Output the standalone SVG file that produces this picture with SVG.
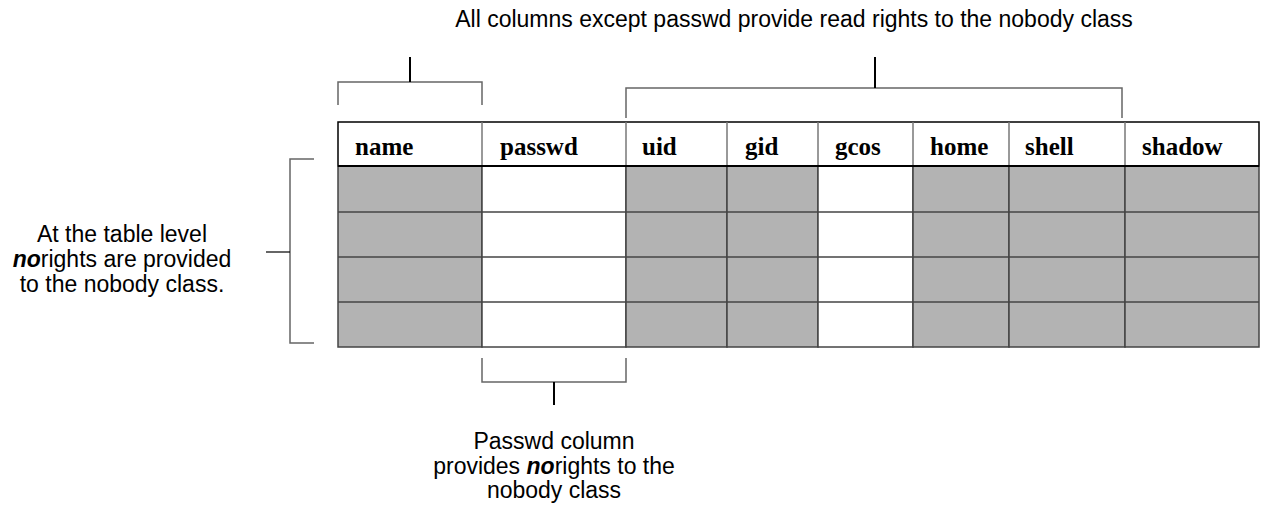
<svg xmlns="http://www.w3.org/2000/svg" width="1261" height="506" viewBox="0 0 1261 506">
<style>
.hd{font-family:"Liberation Serif","Times New Roman",serif;font-weight:bold;font-size:25px;fill:#000}
.lb{font-family:"Liberation Sans",Arial,sans-serif;font-size:23px;fill:#000}
.em{font-weight:bold;font-style:italic}
.g{fill:#b3b3b3;stroke:#444;stroke-width:1.5}
.w{fill:#fff;stroke:#444;stroke-width:1.5}
.br{fill:none;stroke:#666;stroke-width:1.5}
.st{fill:none;stroke:#000;stroke-width:2}
</style>
<rect width="1261" height="506" fill="#fff"/>
<g id="table">
  <g id="header">
    <rect x="338" y="122" width="921" height="44" fill="#fff" stroke="#000" stroke-width="1.5"/>
    <g stroke="#777" stroke-width="1.5">
      <line x1="482" y1="122" x2="482" y2="166"/>
      <line x1="626" y1="122" x2="626" y2="166"/>
      <line x1="727" y1="122" x2="727" y2="166"/>
      <line x1="818" y1="122" x2="818" y2="166"/>
      <line x1="913" y1="122" x2="913" y2="166"/>
      <line x1="1009" y1="122" x2="1009" y2="166"/>
      <line x1="1125" y1="122" x2="1125" y2="166"/>
    </g>
    <text class="hd" x="355" y="155">name</text>
    <text class="hd" x="500" y="155">passwd</text>
    <text class="hd" x="642" y="155">uid</text>
    <text class="hd" x="745" y="155">gid</text>
    <text class="hd" x="835" y="155">gcos</text>
    <text class="hd" x="930" y="155">home</text>
    <text class="hd" x="1025" y="155">shell</text>
    <text class="hd" x="1142" y="155">shadow</text>
  </g>
  <g id="cells">
    <rect class="g" x="338" y="166" width="144" height="181"/>
    <rect class="w" x="482" y="166" width="144" height="181"/>
    <rect class="g" x="626" y="166" width="101" height="181"/>
    <rect class="g" x="727" y="166" width="91" height="181"/>
    <rect class="w" x="818" y="166" width="95" height="181"/>
    <rect class="g" x="913" y="166" width="96" height="181"/>
    <rect class="g" x="1009" y="166" width="116" height="181"/>
    <rect class="g" x="1125" y="166" width="134" height="181"/>
    <g stroke="#444" stroke-width="1.5">
      <line x1="338" y1="212" x2="1259" y2="212"/>
      <line x1="338" y1="257" x2="1259" y2="257"/>
      <line x1="338" y1="302" x2="1259" y2="302"/>
    </g>
    <line x1="338" y1="166" x2="1259" y2="166" stroke="#000" stroke-width="2"/>
  </g>
</g>
<g id="connectors">
  <path class="br" d="M338,105 V82 H482 V105"/>
  <line class="st" x1="410" y1="57" x2="410" y2="82"/>
  <path class="br" d="M626,118 V88 H1122 V118"/>
  <line class="st" x1="875" y1="57" x2="875" y2="88"/>
  <path class="br" d="M314,159 H290 V343 H314"/>
  <line x1="266" y1="252" x2="290" y2="252" stroke="#000" stroke-width="1.2"/>
  <path class="br" d="M482,358 V382 H626 V358"/>
  <line class="st" x1="554" y1="382" x2="554" y2="405"/>
</g>
<g id="label-top">
  <text class="lb" x="794" y="27" text-anchor="middle">All columns except passwd provide read rights to the nobody class</text>
</g>
<g id="label-left">
  <text class="lb" x="122" y="242" text-anchor="middle">At the table level</text>
  <text class="lb" x="122" y="267" text-anchor="middle"><tspan class="em">no</tspan>rights are provided</text>
  <text class="lb" x="122" y="292" text-anchor="middle">to the nobody class.</text>
</g>
<g id="label-bottom">
  <text class="lb" x="554" y="449" text-anchor="middle">Passwd column</text>
  <text class="lb" x="554" y="474" text-anchor="middle">provides <tspan class="em">no</tspan>rights to the</text>
  <text class="lb" x="554" y="498" text-anchor="middle">nobody class</text>
</g>
</svg>
